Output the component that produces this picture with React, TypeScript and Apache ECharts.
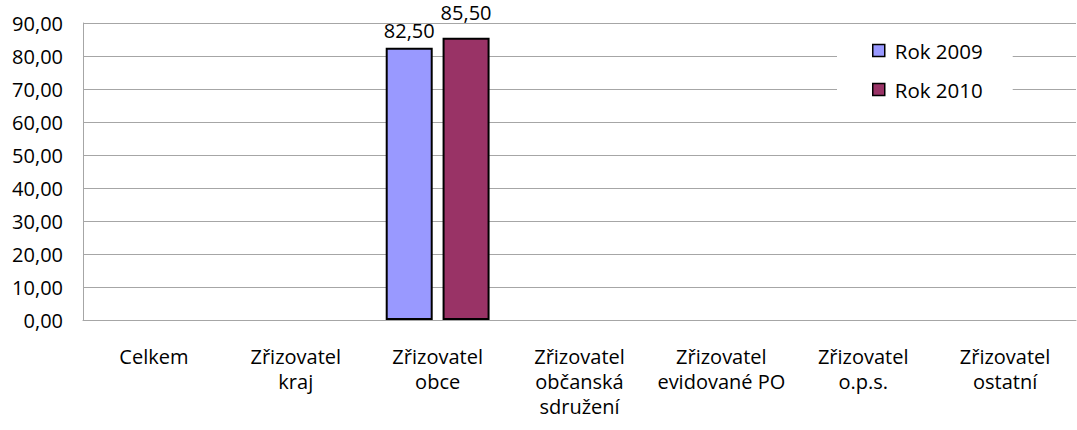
import React, { useEffect, useRef } from "react";
import * as echarts from "echarts";

const categories = [
  "Celkem",
  "Zřizovatel\nkraj",
  "Zřizovatel\nobce",
  "Zřizovatel\nobčanská\nsdružení",
  "Zřizovatel\nevidované PO",
  "Zřizovatel\no.p.s.",
  "Zřizovatel\nostatní",
];
const rok2009: (number | null)[] = [null, null, 82.5, null, null, null, null];
const rok2010: (number | null)[] = [null, null, 85.5, null, null, null, null];
const seriesNames = ["Rok 2009", "Rok 2010"];

const FONT = "'Open Sans', sans-serif";
const fmt = (v: number) => v.toFixed(2).replace(".", ",");

export default function App() {
  const ref = useRef<HTMLDivElement>(null);
  useEffect(() => {
    if (!ref.current) return;
    const chart = echarts.init(ref.current, undefined, { renderer: "svg" });
    const labelCfg = (distance: number) => ({
      show: true,
      position: "top" as const,
      distance,
      color: "#000",
      fontFamily: FONT,
      fontSize: 20,
      formatter: (p: any) => fmt(p.value),
    });
    chart.setOption({
      animation: false,
      backgroundColor: "#fff",
      textStyle: { fontFamily: FONT },
      grid: { left: 83, right: 1, top: 23, bottom: 110, containLabel: false },
      legend: {
        orient: "vertical",
        left: 837,
        top: 30,
        padding: [10, 30, 12, 35],
        backgroundColor: "#fff",
        itemWidth: 12,
        itemHeight: 12,
        itemGap: 18,
        icon: "rect",
        itemStyle: { borderColor: "#000", borderWidth: 1.5 },
        textStyle: { fontFamily: FONT, fontSize: 20.5, color: "#000", lineHeight: 16, padding: [0, 0, 0, 5] },
        data: seriesNames,
      },
      xAxis: {
        type: "category",
        data: categories,
        axisLine: { show: true, lineStyle: { color: "#a6a6a6", width: 1 } },
        axisTick: { show: false },
        axisLabel: {
          color: "#000",
          fontFamily: FONT,
          fontSize: 20,
          lineHeight: 25,
          margin: 24,
          interval: 0,
        },
      },
      yAxis: {
        type: "value",
        min: 0,
        max: 90,
        interval: 10,
        axisLine: { show: true, lineStyle: { color: "#a6a6a6", width: 1 } },
        axisTick: { show: false },
        splitLine: { show: true, lineStyle: { color: "#a6a6a6", width: 1 } },
        axisLabel: {
          color: "#000",
          fontFamily: FONT,
          fontSize: 20,
          margin: 20,
          formatter: (v: number) => fmt(v),
        },
      },
      series: [
        {
          name: seriesNames[0],
          type: "bar",
          data: rok2009,
          barWidth: 47,
          barGap: "21%",
          itemStyle: { color: "#9999ff", borderColor: "#000", borderWidth: 2 },
          label: labelCfg(7),
        },
        {
          name: seriesNames[1],
          type: "bar",
          data: rok2010,
          barWidth: 47,
          barGap: "21%",
          itemStyle: { color: "#993366", borderColor: "#000", borderWidth: 2 },
          label: labelCfg(15),
        },
      ],
    });
    return () => chart.dispose();
  }, []);
  return (
    <div
      ref={ref}
      style={{ position: "fixed", left: 0, top: 0, width: 1077, height: 430 }}
    />
  );
}
